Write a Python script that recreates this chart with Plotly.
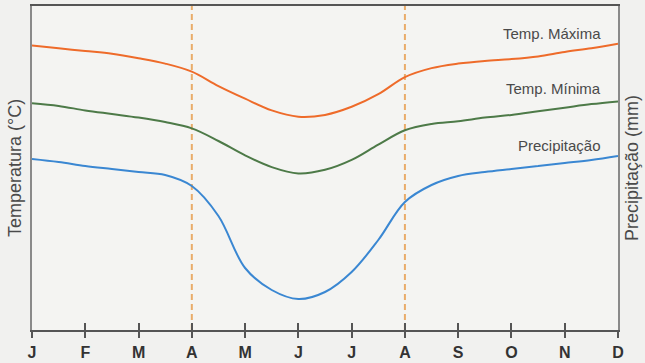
import plotly.graph_objects as go

# ---- data ----
month_labels = ["J", "F", "M", "A", "M", "J", "J", "A", "S", "O", "N", "D"]
month_pos = list(range(12))
# half-month sample positions (month index)
x_pts = [i * 0.5 for i in range(23)]
temp_max = [31.6, 31.3, 31.0, 30.7, 30.2, 29.6, 28.7, 27.1, 25.7, 24.4, 23.7, 23.9,
            24.8, 26.2, 28.1, 29.1, 29.6, 29.9, 30.1, 30.4, 30.9, 31.3, 31.8]
temp_min = [25.2, 24.9, 24.4, 24.0, 23.6, 23.1, 22.4, 21.0, 19.4, 18.1, 17.4, 17.8,
            18.9, 20.6, 22.2, 22.9, 23.2, 23.6, 23.9, 24.3, 24.7, 25.1, 25.4]
precip = [85.5, 84.0, 82.0, 80.5, 79.0, 77.5, 72.0, 57.0, 31.0, 20.0, 15.5, 19.0,
          29.0, 45.0, 64.0, 72.5, 77.0, 79.0, 80.5, 82.0, 83.5, 85.0, 87.0]
dry_season_bounds = [3, 7]
series_labels = ["Temp. Máxima", "Temp. Mínima", "Precipitação"]

# ---- style ----
C_MAX = "#EE6B2A"
C_MIN = "#4D7A48"
C_PRE = "#3A87D2"
C_DASH = "#E9AC6A"
GRID = "#8A8A8A"
TXT = "#4A4A4A"

fig = go.Figure()
fig.add_trace(go.Scatter(x=x_pts, y=temp_max, mode="lines", name=series_labels[0],
                         line=dict(color=C_MAX, width=2, shape="spline", smoothing=1.0),
                         xaxis="x", yaxis="y"))
fig.add_trace(go.Scatter(x=x_pts, y=temp_min, mode="lines", name=series_labels[1],
                         line=dict(color=C_MIN, width=2, shape="spline", smoothing=1.0),
                         xaxis="x", yaxis="y"))
fig.add_trace(go.Scatter(x=x_pts, y=precip, mode="lines", name=series_labels[2],
                         line=dict(color=C_PRE, width=2, shape="spline", smoothing=1.0),
                         xaxis="x2", yaxis="y2"))

for xb in dry_season_bounds:
    fig.add_shape(type="line", xref="x", yref="paper", x0=xb, x1=xb, y0=0, y1=1,
                  line=dict(color=C_DASH, width=2, dash="6px,4px"), layer="below")

fig.update_layout(
    width=645, height=363,
    margin=dict(l=32, r=27, t=6, b=33, autoexpand=False),
    paper_bgcolor="#F1F1EF",
    plot_bgcolor="#F4F4F2",
    showlegend=False,
    font=dict(family="Liberation Sans, Arial, sans-serif", color=TXT),
    xaxis=dict(range=[0, 11], tickmode="array", tickvals=month_pos, ticktext=month_labels,
               ticks="outside", ticklen=6, tickwidth=1.5, tickcolor="#555555",
               showline=True, linecolor="#555555", linewidth=1.5, mirror=True,
               showgrid=False, zeroline=False, ticklabelstandoff=1, automargin=False,
               tickfont=dict(size=16, color="#333333",
                             family="Liberation Sans, Arial, sans-serif", weight="bold")),
    xaxis2=dict(range=[0, 11], overlaying="x", anchor="y2", side="bottom",
                tickmode="array", tickvals=month_pos, ticks="inside", ticklen=7,
                tickwidth=1.5, tickcolor="#555555", showticklabels=False, automargin=False,
                showline=False, showgrid=False, zeroline=False),
    yaxis=dict(range=[0, 36], showticklabels=False, ticks="", showgrid=False, automargin=False,
               zeroline=False, showline=True, linecolor=GRID, linewidth=1.5, mirror=True),
    yaxis2=dict(range=[0, 162], overlaying="y", side="right", anchor="x2", automargin=False,
                showticklabels=False, ticks="", showgrid=False, zeroline=False,
                showline=False),
)

# axis titles
fig.add_annotation(text="Temperatura (°C)", xref="paper", yref="paper", x=-0.029, y=0.5,
                   textangle=-90, showarrow=False, font=dict(size=18, color=TXT),
                   xanchor="center", yanchor="middle")
fig.add_annotation(text="Precipitação (mm)", xref="paper", yref="paper", x=1.024, y=0.5,
                   textangle=-90, showarrow=False, font=dict(size=18, color=TXT),
                   xanchor="center", yanchor="middle")

# series labels
label_y = [0.915, 0.745, 0.57]
for txt, yy in zip(series_labels, label_y):
    fig.add_annotation(text=txt, xref="paper", yref="paper", x=0.974, y=yy,
                       xanchor="right", yanchor="middle", showarrow=False,
                       font=dict(size=15, color=TXT))

fig.write_html("out.html", config={"displayModeBar": False})

# remove the browser's default page margin so the 645x363 figure fills the window
with open("out.html", "r", encoding="utf-8") as f:
    html = f.read()
html = html.replace("<head>", "<head><style>html,body{margin:0;padding:0;overflow:hidden;}</style>", 1)
with open("out.html", "w", encoding="utf-8") as f:
    f.write(html)
